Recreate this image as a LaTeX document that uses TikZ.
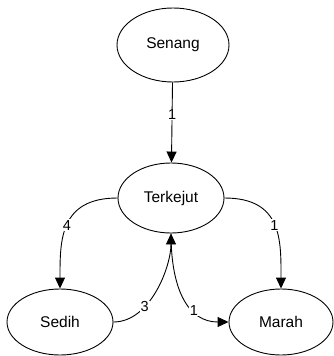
\documentclass[tikz,border=0pt]{standalone}
\usepackage{fontspec}
\setmainfont{Liberation Sans}
\usetikzlibrary{shapes.geometric,arrows.meta}
\begin{document}
\begin{tikzpicture}[x=1pt,y=-1pt,
  state/.style={ellipse,draw,line width=0.9pt,minimum width=106pt,minimum height=70pt,inner sep=0pt,font=\fontsize{15.5}{18}\selectfont},
  link/.style={line width=0.9pt,-{Triangle[length=11pt,width=10pt]}},
  wt/.style={fill=white,inner sep=1pt,font=\fontsize{14.5}{17}\selectfont}]
\useasboundingbox (0,0) rectangle (334,356);
\node[state,minimum width=112pt,minimum height=74pt] (sn) at (173,45) {Senang};
\node[state] (tk) at (171,198) {Terkejut};
\node[state,minimum height=66pt] (sd) at (60,322) {Sedih};
\node[state,minimum width=104pt,minimum height=66pt] (mr) at (281,322) {Marah};
% edges with weights
\draw[link] (sn) -- node[wt,pos=0.4] {1} (tk);
\draw[link] (tk.west) .. controls +(-58,0) and +(0,-48) .. node[wt,pos=0.5] {4} (sd.north);
\draw[link] (tk.east) .. controls +(58,0) and +(0,-48) .. node[wt,pos=0.5] {1} (mr.north);
\draw[link] (sd.east) .. controls +(37,0) and +(0,33) .. node[wt,pos=0.33] {3} (tk.south);
\draw[link] (tk.south) .. controls +(0,57) and +(-40,0) .. node[wt,pos=0.64] {1} (mr.west);
\end{tikzpicture}
\end{document}
